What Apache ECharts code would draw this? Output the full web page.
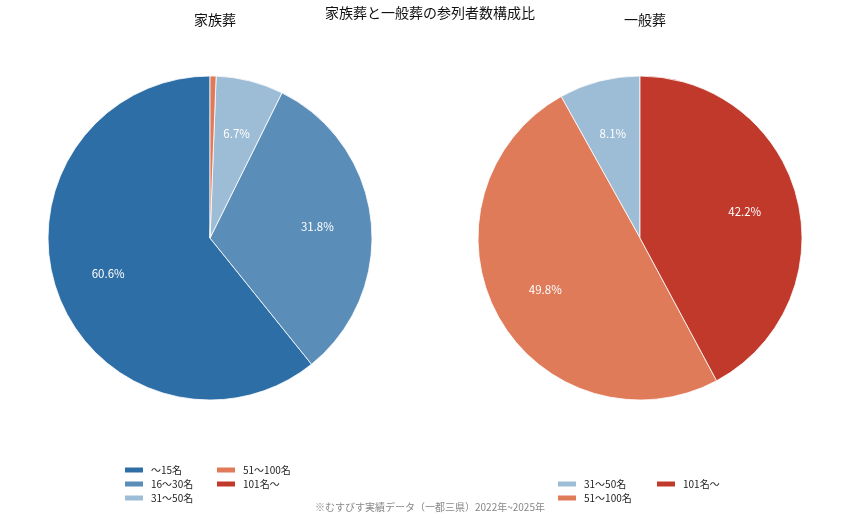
<!DOCTYPE html>
<html>
<head>
<meta charset="utf-8">
<script src="https://cdn.jsdelivr.net/npm/echarts@6/dist/echarts.min.js"></script>
<style>
  html, body { margin: 0; padding: 0; background: #fff; }
  #chart { width: 850px; height: 522px; }
</style>
</head>
<body>
<div id="chart"></div>
<script>
// ---- data ----
const categories = ["〜15名", "16〜30名", "31〜50名", "51〜100名", "101名〜"];
const familyValues = [60.6, 31.8, 6.7, 0.6, 0];
const generalValues = [0, 0, 8.1, 49.8, 42.2];
const colors = ["#2e6ea6", "#5b8db9", "#9dbdd6", "#e07b5a", "#c0392b"];

const font = "'Noto Sans CJK JP', 'Noto Sans', sans-serif";

const toData = (values) =>
  categories
    .map((name, i) => ({ name, value: values[i], itemStyle: { color: colors[i] } }))
    .filter((d) => d.value > 0);

// one pie draws the slices, a transparent ring on top carries the labels
const makePie = (values, cx) => [
  {
    type: "pie",
    center: [cx, 238],
    radius: [0, 162],
    startAngle: 90,
    clockwise: false,
    silent: true,
    animation: false,
    data: toData(values),
    itemStyle: { borderColor: "#fff", borderWidth: 0.8 },
    label: { show: false },
    labelLine: { show: false },
  },
  {
    type: "pie",
    center: [cx, 238],
    radius: [48, 162],
    startAngle: 90,
    clockwise: false,
    silent: true,
    animation: false,
    legendHoverLink: false,
    data: toData(values).map((d) => ({ ...d, itemStyle: { color: "transparent" } })),
    label: {
      show: true,
      position: "inside",
      color: "#fff",
      fontSize: 11.5,
      fontFamily: font,
      formatter: (p) => (p.value >= 5 ? p.value.toFixed(1) + "%" : ""),
    },
    labelLine: { show: false },
  },
];

const legendBase = {
  orient: "vertical",
  icon: "rect",
  itemWidth: 20,
  itemHeight: 7,
  itemGap: 2,
  selectedMode: false,
  textStyle: { fontSize: 10, fontFamily: font, color: "#222", lineHeight: 12, padding: [0, 0, 0, 2] },
};

const chart = echarts.init(document.getElementById("chart"));
chart.setOption({
  backgroundColor: "#fff",
  title: [
    {
      text: "家族葬と一般葬の参列者数構成比",
      left: 425, top: 1, textAlign: "center",
      textStyle: { fontSize: 14, fontWeight: "normal", color: "#111", fontFamily: font },
    },
    {
      text: "家族葬",
      left: 210, top: 8, textAlign: "center",
      textStyle: { fontSize: 14, fontWeight: "normal", color: "#111", fontFamily: font },
    },
    {
      text: "一般葬",
      left: 640, top: 8, textAlign: "center",
      textStyle: { fontSize: 14, fontWeight: "normal", color: "#111", fontFamily: font },
    },
    {
      text: "※むすびす実績データ（一都三県）2022年~2025年",
      left: 425, top: 497, textAlign: "center",
      textStyle: { fontSize: 10, fontWeight: "normal", color: "#888", fontFamily: font },
    },
  ],
  legend: [
    { ...legendBase, left: 118, top: 459, data: categories.slice(0, 3) },
    { ...legendBase, left: 210, top: 459, data: categories.slice(3, 5) },
    { ...legendBase, left: 551, top: 473, data: categories.slice(2, 4) },
    { ...legendBase, left: 650, top: 473, data: categories.slice(4, 5) },
  ],
  series: [...makePie(familyValues, 210), ...makePie(generalValues, 640)],
});
</script>
</body>
</html>
